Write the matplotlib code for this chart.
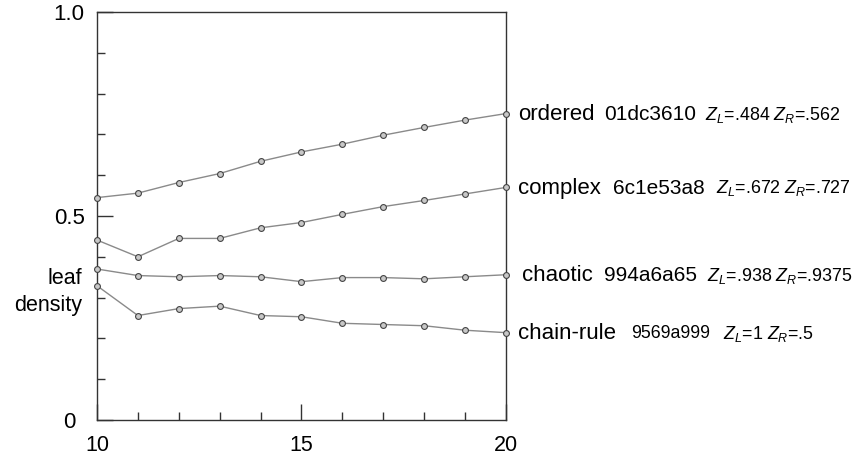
import numpy as np
import matplotlib.pyplot as plt
from matplotlib.ticker import MultipleLocator

plt.rcParams["font.family"] = ["Liberation Sans", "DejaVu Sans"]
plt.rcParams["mathtext.fontset"] = "custom"
plt.rcParams["mathtext.rm"] = "Liberation Sans"
plt.rcParams["mathtext.it"] = "Liberation Sans:italic"

# lattice size vs leaf density for four rules
size = np.arange(10, 21)
ordered = [0.545, 0.556, 0.582, 0.604, 0.634, 0.657, 0.676, 0.698, 0.717, 0.735, 0.751]
complex_ = [0.441, 0.400, 0.445, 0.445, 0.471, 0.484, 0.504, 0.523, 0.538, 0.554, 0.570]
chaotic = [0.370, 0.354, 0.351, 0.354, 0.351, 0.339, 0.349, 0.349, 0.346, 0.351, 0.356]
chain_rule = [0.329, 0.256, 0.273, 0.279, 0.256, 0.253, 0.237, 0.234, 0.231, 0.220, 0.214]

names = ["ordered", "complex", "chaotic", "chain-rule"]
codes = ["01dc3610", "6c1e53a8", "994a6a65", "9569a999"]
z_texts = [r"$Z_L$=.484 $Z_R$=.562", r"$Z_L$=.672 $Z_R$=.727",
           r"$Z_L$=.938 $Z_R$=.9375", r"$Z_L$=1 $Z_R$=.5"]
series = [ordered, complex_, chaotic, chain_rule]

fig = plt.figure(figsize=(8.57, 4.57), dpi=100)
ax = fig.add_axes([0.1132, 0.081, 0.4772, 0.8928])

for ys in series:
    ax.plot(size, ys, color="#8a8a8a", lw=1.0, marker="o", ms=4.2,
            mfc="#c8c8c8", mec="#444444", mew=0.8, clip_on=False, zorder=3)

# right-hand labels (pixel offsets from the last point)
name_dx = [12, 12, 16, 12]
code_dx = [98, 107, 98, 125]
code_fs = [15, 15, 15, 12.8]
z_dx = [199, 210, 201, 217]
for i, ys in enumerate(series):
    y = ys[-1]
    ax.annotate(names[i], (20, y), xytext=(name_dx[i], -1), textcoords="offset pixels",
                fontsize=16, va="center", ha="left", annotation_clip=False)
    ax.annotate(codes[i], (20, y), xytext=(code_dx[i], -1), textcoords="offset pixels",
                fontsize=code_fs[i], va="center", ha="left", annotation_clip=False)
    ax.annotate(z_texts[i], (20, y), xytext=(z_dx[i], -1), textcoords="offset pixels",
                fontsize=12.9, va="center", ha="left", annotation_clip=False)

ax.set_xlim(10, 20)
ax.set_ylim(0, 1.0)

ax.set_xticks([10, 15, 20])
ax.set_xticklabels(["10", "15", "20"], fontsize=15.5)
ax.xaxis.set_minor_locator(MultipleLocator(1))
ax.set_yticks([0, 0.5, 1.0])
ax.set_yticklabels(["0", "0.5", "1.0"], fontsize=16)
ax.yaxis.set_minor_locator(MultipleLocator(0.1))

ax.tick_params(which="both", direction="in", color="#333333", width=1.0,
               top=False, right=False)
ax.tick_params(which="major", length=11.5)
ax.tick_params(which="minor", length=5.5)
ax.tick_params(axis="x", which="major", pad=11)
for lbl in ax.get_yticklabels():
    lbl.set_horizontalalignment("center")
ax.yaxis.set_tick_params(which="major", pad=20)

for sp in ax.spines.values():
    sp.set_color("#333333")
    sp.set_linewidth(1.0)

ax.set_ylabel("leaf\ndensity", rotation=0, fontsize=15.5, ha="right", va="center",
              multialignment="right", linespacing=1.35)
ax.yaxis.set_label_coords(-0.037, 0.314)

fig.savefig("out.png", dpi=100)
